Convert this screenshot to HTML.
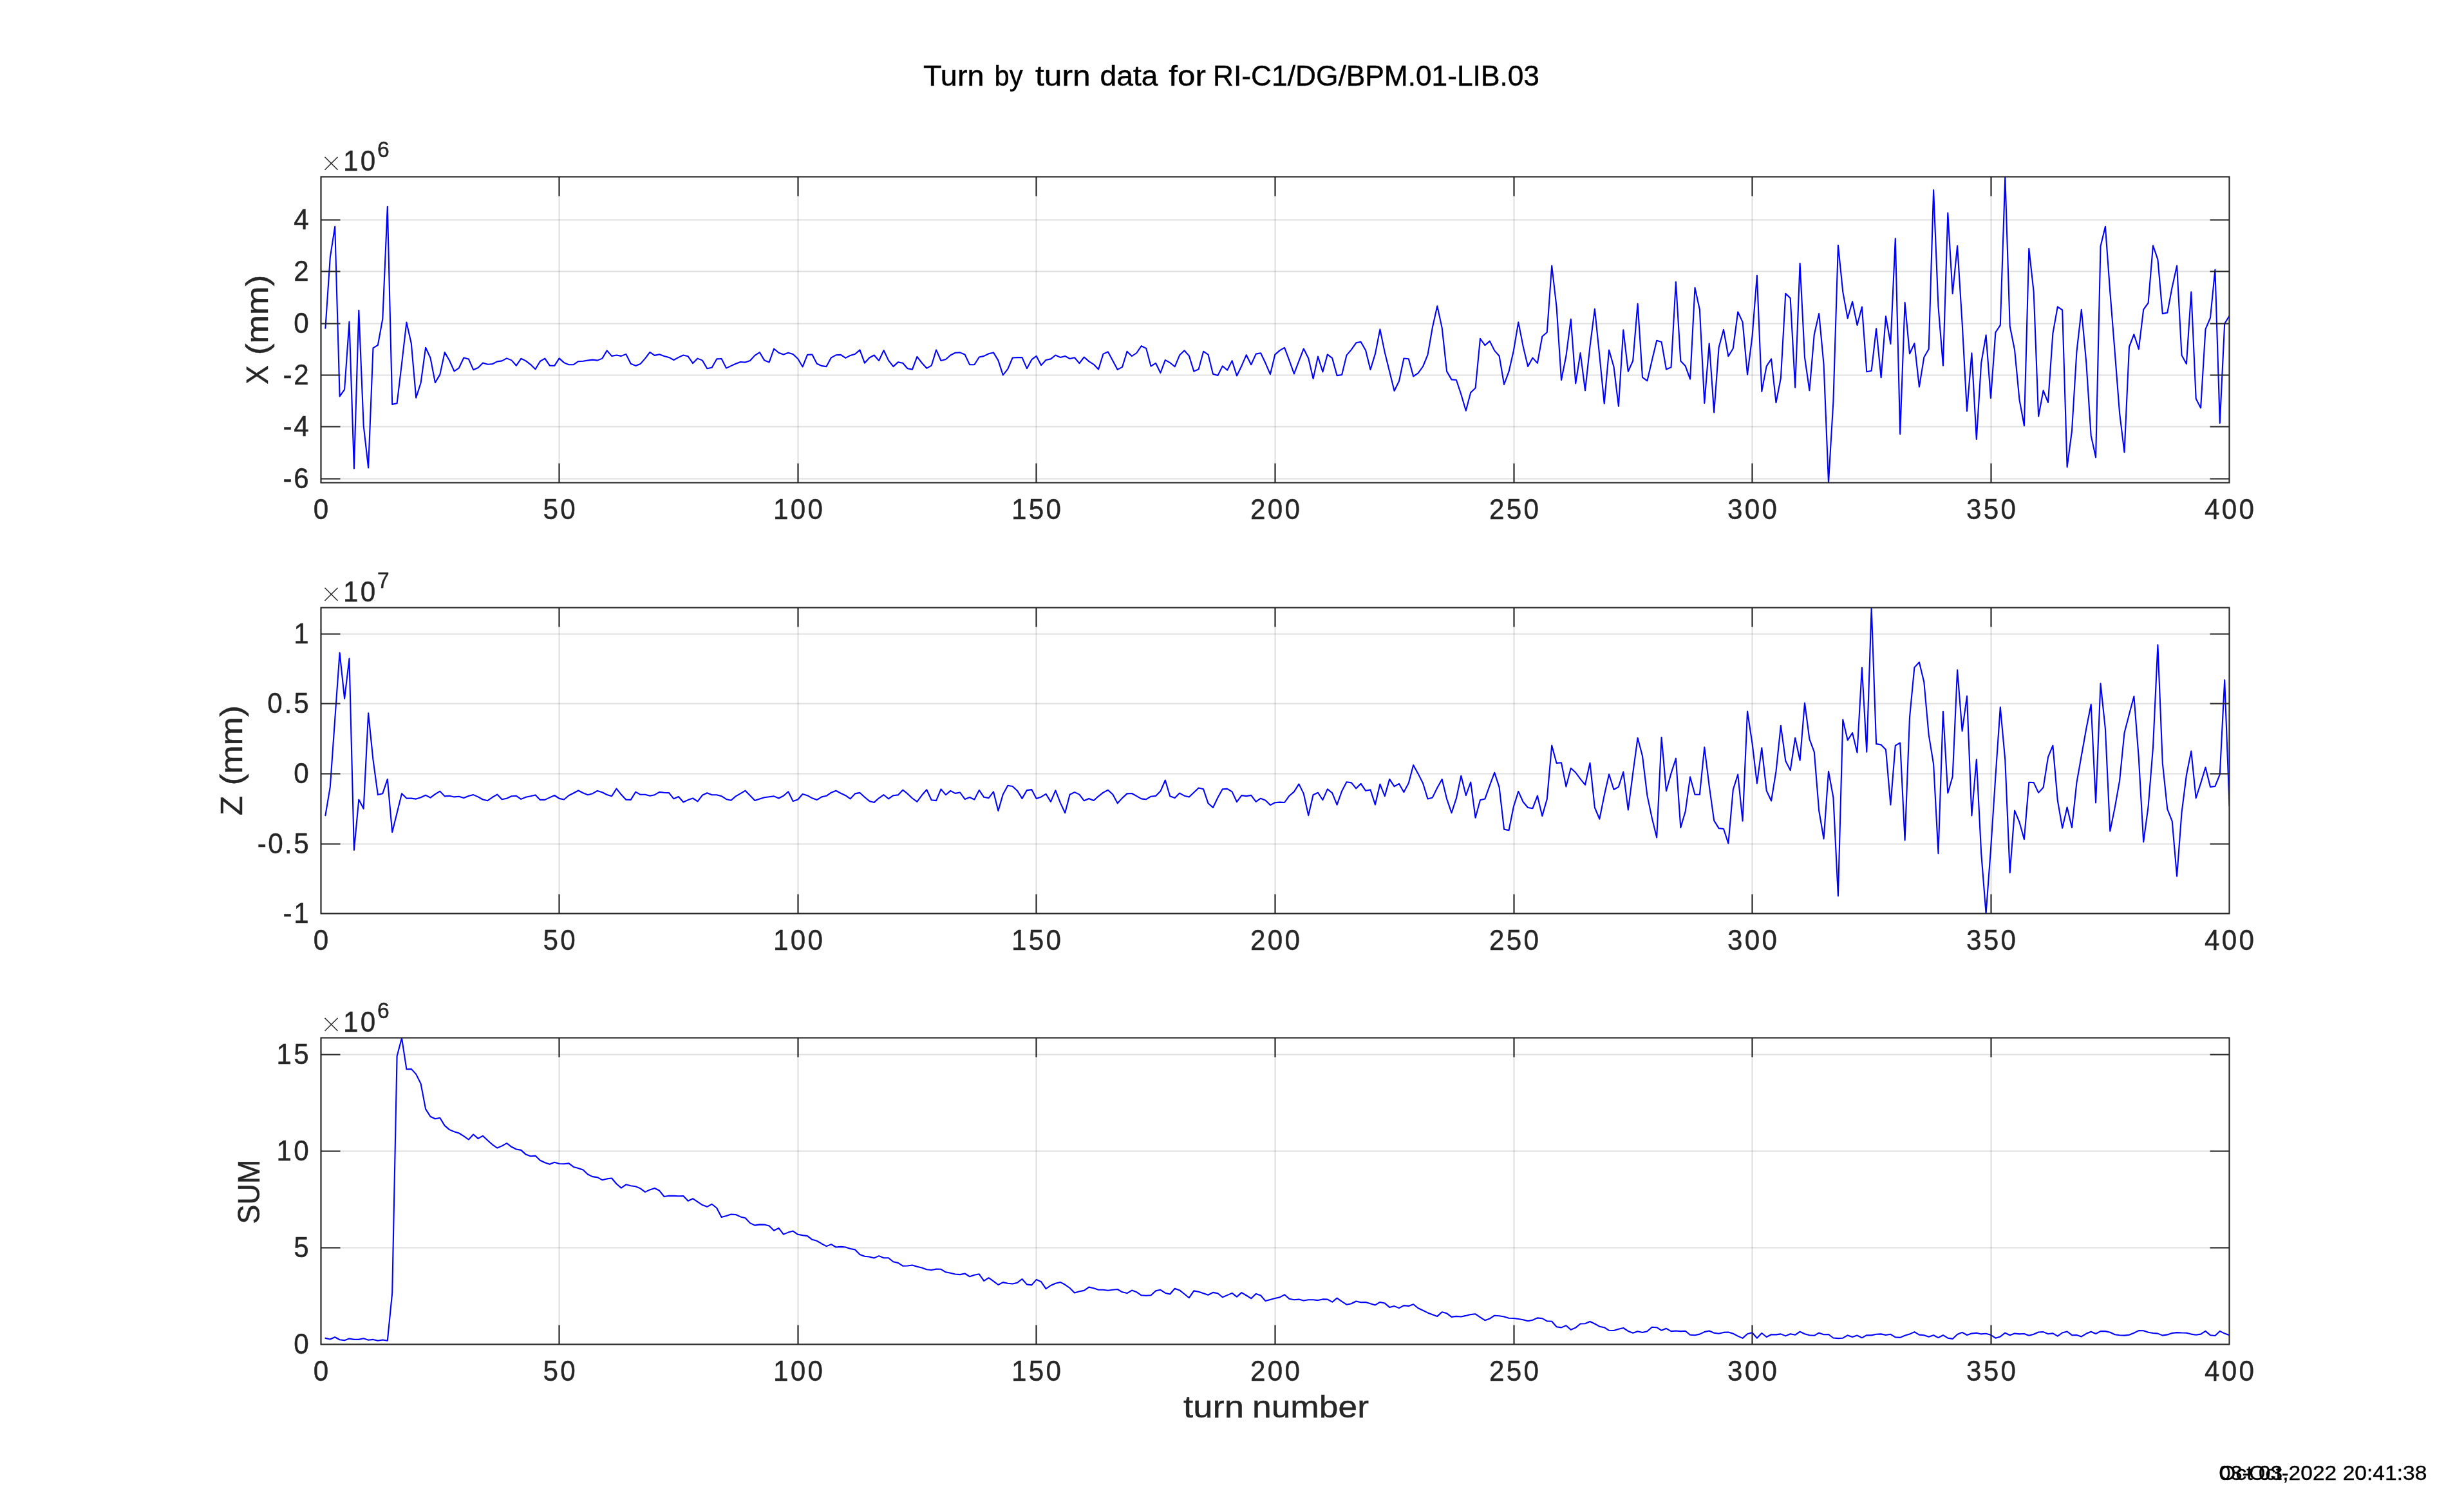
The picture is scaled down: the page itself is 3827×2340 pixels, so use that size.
<!DOCTYPE html>
<html><head><meta charset="utf-8"><title>Turn by turn data</title>
<style>html,body{margin:0;padding:0;background:#fff;}body{width:3827px;height:2340px;overflow:hidden;}svg{display:block;will-change:transform;}text{font-family:"Liberation Sans",sans-serif;}</style></head><body>
<svg width="3827" height="2340" viewBox="0 0 3827 2340">
<rect x="0" y="0" width="3827" height="2340" fill="#ffffff"/>
<text x="1434.00" y="132.5" font-size="43.7" fill="#000" stroke="#000" stroke-width="0.45" textLength="94.50" lengthAdjust="spacingAndGlyphs">Turn</text>
<text x="1544.50" y="132.5" font-size="43.7" fill="#000" stroke="#000" stroke-width="0.45" textLength="44.00" lengthAdjust="spacingAndGlyphs">by</text>
<text x="1608.00" y="132.5" font-size="43.7" fill="#000" stroke="#000" stroke-width="0.45" textLength="85.50" lengthAdjust="spacingAndGlyphs">turn</text>
<text x="1708.50" y="132.5" font-size="43.7" fill="#000" stroke="#000" stroke-width="0.45" textLength="90.00" lengthAdjust="spacingAndGlyphs">data</text>
<text x="1815.30" y="132.5" font-size="43.7" fill="#000" stroke="#000" stroke-width="0.45" textLength="57.50" lengthAdjust="spacingAndGlyphs">for</text>
<text x="1884.00" y="132.5" font-size="43.7" fill="#000" stroke="#000" stroke-width="0.45" textLength="507.00" lengthAdjust="spacingAndGlyphs">RI-C1/DG/BPM.01-LIB.03</text>
<clipPath id="c0"><rect x="498.00" y="274.00" width="2964.60" height="476.00"/></clipPath>
<path d="M498.50 274.50V749.50M868.50 274.50V749.50M1239.50 274.50V749.50M1609.50 274.50V749.50M1980.50 274.50V749.50M2351.50 274.50V749.50M2721.50 274.50V749.50M3092.50 274.50V749.50M3462.50 274.50V749.50" stroke="#262626" stroke-opacity="0.15" stroke-width="2.05" fill="none"/>
<path d="M498.50 341.50H3462.50M498.50 421.50H3462.50M498.50 502.50H3462.50M498.50 582.50H3462.50M498.50 662.50H3462.50M498.50 743.50H3462.50" stroke="#262626" stroke-opacity="0.15" stroke-width="2.05" fill="none"/>
<polyline clip-path="url(#c0)" points="505.4,509.8 512.8,399.7 520.2,351.8 527.6,615.4 535.1,604.8 542.5,499.5 549.9,727.4 557.3,481.8 564.7,661.1 572.1,726.4 579.5,540.4 586.9,535.9 594.3,495.3 601.8,320.9 609.2,627.9 616.6,626.3 624.0,564.5 631.4,500.5 638.8,533.3 646.2,617.6 653.6,594.5 661.1,539.7 668.5,555.8 675.9,594.1 683.3,581.6 690.7,547.1 698.1,559.7 705.5,576.4 712.9,571.3 720.3,555.5 727.8,557.4 735.2,574.2 742.6,571.0 750.0,563.6 757.4,565.8 764.8,565.2 772.2,561.4 779.6,560.4 787.0,556.4 794.5,559.4 801.9,567.7 809.3,556.8 816.7,560.4 824.1,566.1 831.5,573.2 838.9,561.0 846.3,556.6 853.8,567.7 861.2,567.9 868.6,556.4 876.0,563.1 883.4,566.3 890.8,566.1 898.2,561.2 905.6,560.8 913.0,559.6 920.5,558.6 927.9,559.6 935.3,556.6 942.7,544.4 950.1,552.9 957.5,551.5 964.9,552.9 972.3,549.9 979.7,564.7 987.2,567.9 994.6,565.1 1002.0,556.6 1009.4,546.8 1016.8,551.9 1024.2,550.3 1031.6,552.9 1039.0,554.9 1046.5,559.0 1053.9,554.9 1061.3,551.5 1068.7,553.3 1076.1,564.1 1083.5,556.6 1090.9,559.6 1098.3,572.2 1105.7,570.8 1113.2,557.4 1120.6,557.0 1128.0,571.6 1135.4,568.1 1142.8,564.7 1150.2,562.0 1157.6,562.6 1165.0,560.0 1172.4,551.9 1179.9,547.2 1187.3,559.6 1194.7,562.4 1202.1,541.5 1209.5,547.8 1216.9,550.5 1224.3,547.8 1231.7,549.9 1239.2,557.0 1246.6,569.5 1254.0,550.9 1261.4,550.5 1268.8,564.7 1276.2,568.1 1283.6,569.1 1291.0,555.3 1298.4,551.3 1305.9,550.9 1313.3,555.9 1320.7,551.9 1328.1,549.7 1335.5,543.4 1342.9,563.7 1350.3,555.5 1357.7,551.5 1365.1,560.0 1372.6,544.0 1380.0,559.6 1387.4,569.1 1394.8,562.4 1402.2,563.7 1409.6,572.2 1417.0,573.6 1424.4,553.9 1431.8,563.5 1439.3,571.8 1446.7,567.7 1454.1,543.4 1461.5,560.0 1468.9,558.0 1476.3,551.5 1483.7,547.8 1491.1,547.4 1498.6,550.5 1506.0,566.1 1513.4,566.3 1520.8,554.5 1528.2,552.9 1535.6,549.3 1543.0,547.4 1550.4,559.6 1557.8,582.3 1565.3,572.8 1572.7,555.5 1580.1,555.1 1587.5,555.1 1594.9,572.2 1602.3,558.4 1609.7,552.9 1617.1,567.1 1624.5,559.0 1632.0,557.4 1639.4,551.5 1646.8,554.9 1654.2,552.9 1661.6,557.0 1669.0,555.3 1676.4,564.1 1683.8,554.5 1691.3,561.1 1698.7,565.8 1706.1,573.5 1713.5,549.6 1720.9,546.3 1728.3,560.1 1735.7,573.9 1743.1,569.9 1750.5,545.7 1758.0,553.0 1765.4,548.0 1772.8,537.2 1780.2,540.9 1787.6,568.7 1795.0,563.8 1802.4,579.0 1809.8,559.1 1817.2,563.2 1824.7,569.3 1832.1,551.6 1839.5,544.3 1846.9,552.6 1854.3,576.6 1861.7,573.3 1869.1,545.7 1876.5,550.6 1884.0,580.8 1891.4,583.1 1898.8,568.4 1906.2,574.7 1913.6,560.1 1921.0,583.5 1928.4,568.2 1935.8,551.2 1943.2,566.2 1950.7,549.6 1958.1,548.2 1965.5,563.8 1972.9,581.2 1980.3,550.6 1987.7,544.1 1995.1,539.8 2002.5,559.7 2009.9,580.4 2017.4,560.7 2024.8,541.5 2032.2,556.3 2039.6,588.1 2047.0,553.6 2054.4,577.4 2061.8,550.4 2069.2,556.1 2076.6,583.1 2084.1,582.0 2091.5,551.6 2098.9,542.9 2106.3,532.3 2113.7,530.9 2121.1,544.1 2128.5,573.9 2135.9,549.6 2143.4,511.4 2150.8,547.2 2158.2,576.9 2165.6,607.0 2173.0,591.8 2180.4,556.5 2187.8,557.3 2195.2,584.4 2202.6,579.4 2210.1,569.0 2217.5,550.9 2224.9,508.2 2232.3,475.3 2239.7,509.1 2247.1,576.6 2254.5,589.4 2261.9,590.0 2269.3,612.2 2276.8,637.7 2284.2,609.5 2291.6,602.6 2299.0,525.9 2306.4,536.1 2313.8,529.6 2321.2,544.4 2328.6,552.8 2336.1,597.0 2343.5,576.9 2350.9,544.4 2358.3,500.4 2365.7,537.9 2373.1,569.1 2380.5,555.6 2387.9,563.9 2395.3,522.5 2402.8,516.0 2410.2,412.5 2417.6,476.6 2425.0,590.3 2432.4,552.8 2439.8,495.6 2447.2,595.5 2454.6,548.1 2462.0,606.3 2469.5,537.9 2476.9,479.8 2484.3,551.9 2491.7,626.6 2499.1,543.5 2506.5,569.5 2513.9,630.8 2521.3,512.3 2528.8,576.9 2536.2,560.2 2543.6,471.6 2551.0,585.9 2558.4,591.4 2565.8,559.6 2573.2,528.7 2580.6,531.0 2588.0,573.5 2595.5,570.2 2602.9,437.7 2610.3,560.6 2617.7,568.3 2625.1,588.6 2632.5,446.7 2639.9,480.8 2647.3,625.9 2654.7,533.2 2662.2,640.4 2669.6,539.7 2677.0,511.7 2684.4,553.2 2691.8,541.0 2699.2,484.3 2706.6,500.1 2714.0,581.5 2721.5,522.6 2728.9,427.7 2736.3,607.9 2743.7,568.6 2751.1,557.4 2758.5,625.3 2765.9,587.0 2773.3,455.7 2780.7,463.1 2788.2,601.8 2795.6,408.7 2803.0,554.8 2810.4,606.3 2817.8,519.4 2825.2,486.9 2832.6,566.1 2840.0,749.2 2847.4,624.0 2854.9,380.7 2862.3,453.4 2869.7,494.3 2877.1,468.2 2884.5,504.9 2891.9,476.6 2899.3,577.3 2906.7,575.7 2914.1,510.4 2921.6,586.3 2929.0,491.1 2936.4,533.9 2943.8,370.4 2951.2,673.9 2958.6,469.8 2966.0,549.3 2973.4,533.2 2980.9,600.8 2988.3,554.8 2995.7,541.9 3003.1,295.1 3010.5,476.0 3017.9,567.7 3025.3,330.5 3032.7,456.0 3040.1,381.7 3047.6,501.7 3055.0,638.5 3062.4,548.4 3069.8,681.9 3077.2,563.5 3084.6,520.4 3092.0,618.2 3099.4,516.2 3106.8,504.9 3114.3,274.2 3121.7,506.5 3129.1,543.5 3136.5,620.8 3143.9,661.0 3151.3,385.8 3158.7,453.4 3166.1,646.5 3173.6,606.3 3181.0,624.9 3188.4,517.8 3195.8,476.3 3203.2,481.4 3210.6,725.3 3218.0,669.0 3225.4,546.7 3232.8,480.8 3240.3,562.8 3247.7,676.4 3255.1,710.2 3262.5,382.6 3269.9,351.7 3277.3,453.4 3284.7,546.7 3292.1,641.7 3299.5,702.2 3307.0,538.5 3314.4,519.2 3321.8,542.1 3329.2,480.6 3336.6,470.4 3344.0,381.3 3351.4,402.8 3358.8,487.1 3366.3,485.5 3373.7,445.9 3381.1,412.5 3388.5,551.4 3395.9,564.9 3403.3,453.3 3410.7,618.9 3418.1,633.4 3425.5,511.2 3433.0,493.5 3440.4,418.9 3447.8,656.9 3455.2,502.5 3462.6,490.3" fill="none" stroke="#0000ff" stroke-width="2.1" stroke-linejoin="round" stroke-linecap="round"/>
<path d="M868.50 749.50v-30M868.50 274.50v30M1239.50 749.50v-30M1239.50 274.50v30M1609.50 749.50v-30M1609.50 274.50v30M1980.50 749.50v-30M1980.50 274.50v30M2351.50 749.50v-30M2351.50 274.50v30M2721.50 749.50v-30M2721.50 274.50v30M3092.50 749.50v-30M3092.50 274.50v30M498.50 341.50h30M3462.50 341.50h-30M498.50 421.50h30M3462.50 421.50h-30M498.50 502.50h30M3462.50 502.50h-30M498.50 582.50h30M3462.50 582.50h-30M498.50 662.50h30M3462.50 662.50h-30M498.50 743.50h30M3462.50 743.50h-30" stroke="#262626" stroke-width="2.10" fill="none"/>
<rect x="498.50" y="274.50" width="2964.00" height="475.00" fill="none" stroke="#262626" stroke-width="2.10"/>
<text transform="translate(500.20,806.10) scale(0.9650,1)" font-size="43.70" text-anchor="middle" fill="#262626" stroke="#262626" stroke-width="0.45" letter-spacing="3.40">0</text>
<text transform="translate(870.20,806.10) scale(0.9650,1)" font-size="43.70" text-anchor="middle" fill="#262626" stroke="#262626" stroke-width="0.45" letter-spacing="3.40">50</text>
<text transform="translate(1241.20,806.10) scale(0.9650,1)" font-size="43.70" text-anchor="middle" fill="#262626" stroke="#262626" stroke-width="0.45" letter-spacing="3.40">100</text>
<text transform="translate(1611.20,806.10) scale(0.9650,1)" font-size="43.70" text-anchor="middle" fill="#262626" stroke="#262626" stroke-width="0.45" letter-spacing="3.40">150</text>
<text transform="translate(1982.20,806.10) scale(0.9650,1)" font-size="43.70" text-anchor="middle" fill="#262626" stroke="#262626" stroke-width="0.45" letter-spacing="3.40">200</text>
<text transform="translate(2353.20,806.10) scale(0.9650,1)" font-size="43.70" text-anchor="middle" fill="#262626" stroke="#262626" stroke-width="0.45" letter-spacing="3.40">250</text>
<text transform="translate(2723.20,806.10) scale(0.9650,1)" font-size="43.70" text-anchor="middle" fill="#262626" stroke="#262626" stroke-width="0.45" letter-spacing="3.40">300</text>
<text transform="translate(3094.20,806.10) scale(0.9650,1)" font-size="43.70" text-anchor="middle" fill="#262626" stroke="#262626" stroke-width="0.45" letter-spacing="3.40">350</text>
<text transform="translate(3464.20,806.10) scale(0.9650,1)" font-size="43.70" text-anchor="middle" fill="#262626" stroke="#262626" stroke-width="0.45" letter-spacing="3.40">400</text>
<text transform="translate(483.00,356.00) scale(0.9650,1)" font-size="43.70" text-anchor="end" fill="#262626" stroke="#262626" stroke-width="0.45" letter-spacing="3.40">4</text>
<text transform="translate(483.00,436.00) scale(0.9650,1)" font-size="43.70" text-anchor="end" fill="#262626" stroke="#262626" stroke-width="0.45" letter-spacing="3.40">2</text>
<text transform="translate(483.00,517.00) scale(0.9650,1)" font-size="43.70" text-anchor="end" fill="#262626" stroke="#262626" stroke-width="0.45" letter-spacing="3.40">0</text>
<text transform="translate(482.50,597.00) scale(0.9650,1)" font-size="43.70" text-anchor="end" fill="#262626" stroke="#262626" stroke-width="0.45" letter-spacing="2.90">-2</text>
<text transform="translate(482.50,677.00) scale(0.9650,1)" font-size="43.70" text-anchor="end" fill="#262626" stroke="#262626" stroke-width="0.45" letter-spacing="2.90">-4</text>
<text transform="translate(482.50,758.00) scale(0.9650,1)" font-size="43.70" text-anchor="end" fill="#262626" stroke="#262626" stroke-width="0.45" letter-spacing="2.90">-6</text>
<path d="M504.5 243.70l20 20M524.5 243.70l-20 20" stroke="#262626" stroke-width="1.5" fill="none"/>
<text transform="translate(533.00,264.50) scale(0.9650,1)" font-size="43.70" text-anchor="start" fill="#262626" stroke="#262626" stroke-width="0.45" letter-spacing="3.40">10</text>
<text transform="translate(586.00,243.90) scale(0.9650,1)" font-size="34.80" text-anchor="start" fill="#262626" stroke="#262626" stroke-width="0.45">6</text>
<text transform="translate(416.00,596.80) rotate(-90) scale(0.9100,1)" font-size="48.50" text-anchor="start" fill="#262626" stroke="#262626" stroke-width="0.45">X</text>
<text transform="translate(416.00,426.80) rotate(-90) scale(1.1000,1)" font-size="48.50" text-anchor="end" fill="#262626" stroke="#262626" stroke-width="0.45">(mm)</text>
<clipPath id="c1"><rect x="498.00" y="943.00" width="2964.60" height="476.00"/></clipPath>
<path d="M498.50 943.50V1418.50M868.50 943.50V1418.50M1239.50 943.50V1418.50M1609.50 943.50V1418.50M1980.50 943.50V1418.50M2351.50 943.50V1418.50M2721.50 943.50V1418.50M3092.50 943.50V1418.50M3462.50 943.50V1418.50" stroke="#262626" stroke-opacity="0.15" stroke-width="2.05" fill="none"/>
<path d="M498.50 984.50H3462.50M498.50 1092.50H3462.50M498.50 1201.50H3462.50M498.50 1310.50H3462.50M498.50 1418.50H3462.50" stroke="#262626" stroke-opacity="0.15" stroke-width="2.05" fill="none"/>
<polyline clip-path="url(#c1)" points="505.4,1266.1 512.8,1221.9 520.2,1117.0 527.6,1013.5 535.1,1084.8 542.5,1022.5 549.9,1319.9 557.3,1241.5 564.7,1255.7 572.1,1107.4 579.5,1179.9 586.9,1234.1 594.3,1232.2 601.8,1209.9 609.2,1292.2 616.6,1262.2 624.0,1232.2 631.4,1239.6 638.8,1239.6 646.2,1240.6 653.6,1238.3 661.1,1234.8 668.5,1238.6 675.9,1233.2 683.3,1228.6 690.7,1236.4 698.1,1235.7 705.5,1237.4 712.9,1236.7 720.3,1239.0 727.8,1236.1 735.2,1234.1 742.6,1237.4 750.0,1241.5 757.4,1243.2 764.8,1238.0 772.2,1233.6 779.6,1241.3 787.0,1239.7 794.5,1236.2 801.9,1235.8 809.3,1240.9 816.7,1237.8 824.1,1236.2 831.5,1234.4 838.9,1241.9 846.3,1241.9 853.8,1238.4 861.2,1235.0 868.6,1239.9 876.0,1241.5 883.4,1235.2 890.8,1231.5 898.2,1227.5 905.6,1231.3 913.0,1234.2 920.5,1232.2 927.9,1227.9 935.3,1230.3 942.7,1234.0 950.1,1236.2 957.5,1224.6 964.9,1233.8 972.3,1241.7 979.7,1241.9 987.2,1229.7 994.6,1233.8 1002.0,1233.8 1009.4,1235.8 1016.8,1234.2 1024.2,1229.9 1031.6,1230.7 1039.0,1231.1 1046.5,1240.3 1053.9,1237.0 1061.3,1245.5 1068.7,1242.1 1076.1,1239.5 1083.5,1244.3 1090.9,1234.8 1098.3,1231.3 1105.7,1234.2 1113.2,1234.2 1120.6,1236.2 1128.0,1240.9 1135.4,1242.7 1142.8,1236.4 1150.2,1232.2 1157.6,1227.7 1165.0,1235.2 1172.4,1242.9 1179.9,1240.5 1187.3,1238.2 1194.7,1237.2 1202.1,1236.4 1209.5,1239.5 1216.9,1235.8 1224.3,1229.3 1231.7,1244.1 1239.2,1241.5 1246.6,1233.0 1254.0,1235.2 1261.4,1239.3 1268.8,1241.9 1276.2,1237.4 1283.6,1235.8 1291.0,1230.7 1298.4,1227.7 1305.9,1231.7 1313.3,1235.2 1320.7,1240.3 1328.1,1232.4 1335.5,1230.9 1342.9,1237.8 1350.3,1243.9 1357.7,1245.9 1365.1,1239.3 1372.6,1234.2 1380.0,1240.3 1387.4,1235.2 1394.8,1234.4 1402.2,1226.7 1409.6,1232.4 1417.0,1239.5 1424.4,1244.9 1431.8,1234.8 1439.3,1226.3 1446.7,1242.3 1454.1,1243.1 1461.5,1225.3 1468.9,1234.2 1476.3,1227.9 1483.7,1231.9 1491.1,1230.5 1498.6,1240.9 1506.0,1238.0 1513.4,1241.5 1520.8,1226.9 1528.2,1237.8 1535.6,1239.1 1543.0,1229.3 1550.4,1259.1 1557.8,1233.4 1565.3,1219.8 1572.7,1221.0 1580.1,1227.9 1587.5,1239.9 1594.9,1227.1 1602.3,1226.1 1609.7,1240.1 1617.1,1237.4 1624.5,1232.8 1632.0,1244.9 1639.4,1227.3 1646.8,1246.4 1654.2,1262.2 1661.6,1233.8 1669.0,1230.1 1676.4,1233.6 1683.8,1243.3 1691.3,1240.0 1698.7,1243.0 1706.1,1236.3 1713.5,1230.6 1720.9,1226.8 1728.3,1233.5 1735.7,1247.3 1743.1,1239.1 1750.5,1232.4 1758.0,1232.0 1765.4,1236.1 1772.8,1240.4 1780.2,1241.2 1787.6,1236.7 1795.0,1235.9 1802.4,1228.6 1809.8,1211.5 1817.2,1236.3 1824.7,1239.1 1832.1,1231.6 1839.5,1235.7 1846.9,1237.5 1854.3,1230.4 1861.7,1223.5 1869.1,1225.3 1876.5,1247.3 1884.0,1254.0 1891.4,1238.5 1898.8,1225.3 1906.2,1224.9 1913.6,1229.4 1921.0,1245.2 1928.4,1235.1 1935.8,1236.1 1943.2,1234.9 1950.7,1244.8 1958.1,1239.7 1965.5,1242.8 1972.9,1250.1 1980.3,1246.2 1987.7,1245.6 1995.1,1246.0 2002.5,1235.7 2009.9,1229.4 2017.4,1217.4 2024.8,1232.4 2032.2,1266.1 2039.6,1234.3 2047.0,1230.8 2054.4,1242.2 2061.8,1225.3 2069.2,1231.4 2076.6,1249.7 2084.1,1228.4 2091.5,1214.2 2098.9,1215.4 2106.3,1224.3 2113.7,1216.8 2121.1,1227.8 2128.5,1226.4 2135.9,1249.5 2143.4,1217.6 2150.8,1236.1 2158.2,1209.9 2165.6,1221.1 2173.0,1216.9 2180.4,1230.0 2187.8,1216.0 2195.2,1188.0 2202.6,1201.4 2210.1,1216.3 2217.5,1240.4 2224.9,1238.4 2232.3,1223.3 2239.7,1209.9 2247.1,1240.6 2254.5,1262.2 2261.9,1239.7 2269.3,1204.6 2276.8,1235.1 2284.2,1214.5 2291.6,1269.8 2299.0,1242.3 2306.4,1240.4 2313.8,1219.6 2321.2,1199.7 2328.6,1222.4 2336.1,1287.6 2343.5,1289.2 2350.9,1252.5 2358.3,1228.9 2365.7,1245.2 2373.1,1254.0 2380.5,1255.2 2387.9,1235.7 2395.3,1267.1 2402.8,1240.6 2410.2,1157.5 2417.6,1184.9 2425.0,1184.2 2432.4,1221.4 2439.8,1192.8 2447.2,1199.5 2454.6,1209.6 2462.0,1218.7 2469.5,1184.6 2476.9,1254.0 2484.3,1271.7 2491.7,1235.1 2499.1,1202.3 2506.5,1226.0 2513.9,1221.8 2521.3,1198.6 2528.8,1257.6 2536.2,1200.4 2543.6,1145.7 2551.0,1174.0 2558.4,1235.1 2565.8,1270.3 2573.2,1300.6 2580.6,1144.8 2588.0,1228.3 2595.5,1200.9 2602.9,1177.7 2610.3,1285.1 2617.7,1259.9 2625.1,1206.4 2632.5,1233.8 2639.9,1233.8 2647.3,1160.3 2654.7,1220.3 2662.2,1274.1 2669.6,1286.1 2677.0,1287.0 2684.4,1309.6 2691.8,1226.1 2699.2,1202.5 2706.6,1274.8 2714.0,1104.5 2721.5,1154.1 2728.9,1216.4 2736.3,1161.2 2743.7,1227.7 2751.1,1243.5 2758.5,1197.7 2765.9,1126.7 2773.3,1181.5 2780.7,1196.1 2788.2,1145.7 2795.6,1180.6 2803.0,1091.5 2810.4,1147.7 2817.8,1167.7 2825.2,1259.0 2832.6,1302.5 2840.0,1197.7 2847.4,1238.0 2854.9,1391.2 2862.3,1117.4 2869.7,1149.3 2877.1,1138.0 2884.5,1168.6 2891.9,1036.7 2899.3,1167.7 2906.7,943.5 2914.1,1155.1 2921.6,1156.4 2929.0,1164.1 2936.4,1249.6 2943.8,1157.7 2951.2,1153.5 2958.6,1304.8 2966.0,1113.8 2973.4,1036.4 2980.9,1028.3 2988.3,1059.0 2995.7,1141.2 3003.1,1186.4 3010.5,1325.1 3017.9,1104.8 3025.3,1231.5 3032.7,1205.7 3040.1,1040.3 3047.6,1135.1 3055.0,1080.9 3062.4,1266.4 3069.8,1179.3 3077.2,1325.1 3084.6,1418.3 3092.0,1318.6 3099.4,1205.7 3106.8,1098.0 3114.3,1179.9 3121.7,1355.1 3129.1,1258.6 3136.5,1276.7 3143.9,1303.2 3151.3,1214.8 3158.7,1215.1 3166.1,1230.9 3173.6,1222.8 3181.0,1175.7 3188.4,1157.7 3195.8,1242.8 3203.2,1285.7 3210.6,1253.5 3218.0,1285.1 3225.4,1215.4 3232.8,1173.5 3240.3,1131.5 3247.7,1093.8 3255.1,1246.4 3262.5,1061.2 3269.9,1131.5 3277.3,1290.6 3284.7,1254.1 3292.1,1212.2 3299.5,1138.0 3307.0,1109.0 3314.4,1081.2 3321.8,1176.7 3329.2,1307.4 3336.6,1252.5 3344.0,1160.6 3351.4,1001.2 3358.8,1184.8 3366.3,1256.4 3373.7,1275.1 3381.1,1360.6 3388.5,1262.2 3395.9,1203.5 3403.3,1166.4 3410.7,1239.3 3418.1,1216.1 3425.5,1191.5 3433.0,1221.9 3440.4,1220.9 3447.8,1202.5 3455.2,1055.7 3462.6,1250.9" fill="none" stroke="#0000ff" stroke-width="2.1" stroke-linejoin="round" stroke-linecap="round"/>
<path d="M868.50 1418.50v-30M868.50 943.50v30M1239.50 1418.50v-30M1239.50 943.50v30M1609.50 1418.50v-30M1609.50 943.50v30M1980.50 1418.50v-30M1980.50 943.50v30M2351.50 1418.50v-30M2351.50 943.50v30M2721.50 1418.50v-30M2721.50 943.50v30M3092.50 1418.50v-30M3092.50 943.50v30M498.50 984.50h30M3462.50 984.50h-30M498.50 1092.50h30M3462.50 1092.50h-30M498.50 1201.50h30M3462.50 1201.50h-30M498.50 1310.50h30M3462.50 1310.50h-30" stroke="#262626" stroke-width="2.10" fill="none"/>
<rect x="498.50" y="943.50" width="2964.00" height="475.00" fill="none" stroke="#262626" stroke-width="2.10"/>
<text transform="translate(500.20,1475.10) scale(0.9650,1)" font-size="43.70" text-anchor="middle" fill="#262626" stroke="#262626" stroke-width="0.45" letter-spacing="3.40">0</text>
<text transform="translate(870.20,1475.10) scale(0.9650,1)" font-size="43.70" text-anchor="middle" fill="#262626" stroke="#262626" stroke-width="0.45" letter-spacing="3.40">50</text>
<text transform="translate(1241.20,1475.10) scale(0.9650,1)" font-size="43.70" text-anchor="middle" fill="#262626" stroke="#262626" stroke-width="0.45" letter-spacing="3.40">100</text>
<text transform="translate(1611.20,1475.10) scale(0.9650,1)" font-size="43.70" text-anchor="middle" fill="#262626" stroke="#262626" stroke-width="0.45" letter-spacing="3.40">150</text>
<text transform="translate(1982.20,1475.10) scale(0.9650,1)" font-size="43.70" text-anchor="middle" fill="#262626" stroke="#262626" stroke-width="0.45" letter-spacing="3.40">200</text>
<text transform="translate(2353.20,1475.10) scale(0.9650,1)" font-size="43.70" text-anchor="middle" fill="#262626" stroke="#262626" stroke-width="0.45" letter-spacing="3.40">250</text>
<text transform="translate(2723.20,1475.10) scale(0.9650,1)" font-size="43.70" text-anchor="middle" fill="#262626" stroke="#262626" stroke-width="0.45" letter-spacing="3.40">300</text>
<text transform="translate(3094.20,1475.10) scale(0.9650,1)" font-size="43.70" text-anchor="middle" fill="#262626" stroke="#262626" stroke-width="0.45" letter-spacing="3.40">350</text>
<text transform="translate(3464.20,1475.10) scale(0.9650,1)" font-size="43.70" text-anchor="middle" fill="#262626" stroke="#262626" stroke-width="0.45" letter-spacing="3.40">400</text>
<text transform="translate(483.00,999.00) scale(0.9650,1)" font-size="43.70" text-anchor="end" fill="#262626" stroke="#262626" stroke-width="0.45" letter-spacing="3.40">1</text>
<text transform="translate(482.60,1107.00) scale(0.9650,1)" font-size="43.70" text-anchor="end" fill="#262626" stroke="#262626" stroke-width="0.45" letter-spacing="3.00">0.5</text>
<text transform="translate(483.00,1216.00) scale(0.9650,1)" font-size="43.70" text-anchor="end" fill="#262626" stroke="#262626" stroke-width="0.45" letter-spacing="3.40">0</text>
<text transform="translate(482.10,1325.00) scale(0.9650,1)" font-size="43.70" text-anchor="end" fill="#262626" stroke="#262626" stroke-width="0.45" letter-spacing="2.50">-0.5</text>
<text transform="translate(482.50,1433.00) scale(0.9650,1)" font-size="43.70" text-anchor="end" fill="#262626" stroke="#262626" stroke-width="0.45" letter-spacing="2.90">-1</text>
<path d="M504.5 912.70l20 20M524.5 912.70l-20 20" stroke="#262626" stroke-width="1.5" fill="none"/>
<text transform="translate(533.00,933.50) scale(0.9650,1)" font-size="43.70" text-anchor="start" fill="#262626" stroke="#262626" stroke-width="0.45" letter-spacing="3.40">10</text>
<text transform="translate(586.00,912.90) scale(0.9650,1)" font-size="34.80" text-anchor="start" fill="#262626" stroke="#262626" stroke-width="0.45">7</text>
<text transform="translate(376.00,1266.30) rotate(-90) scale(1.0300,1)" font-size="48.50" text-anchor="start" fill="#262626" stroke="#262626" stroke-width="0.45">Z</text>
<text transform="translate(376.00,1095.20) rotate(-90) scale(1.1000,1)" font-size="48.50" text-anchor="end" fill="#262626" stroke="#262626" stroke-width="0.45">(mm)</text>
<clipPath id="c2"><rect x="498.00" y="1611.00" width="2964.60" height="477.00"/></clipPath>
<path d="M498.50 1611.50V2087.50M868.50 1611.50V2087.50M1239.50 1611.50V2087.50M1609.50 1611.50V2087.50M1980.50 1611.50V2087.50M2351.50 1611.50V2087.50M2721.50 1611.50V2087.50M3092.50 1611.50V2087.50M3462.50 1611.50V2087.50" stroke="#262626" stroke-opacity="0.15" stroke-width="2.05" fill="none"/>
<path d="M498.50 1637.50H3462.50M498.50 1787.50H3462.50M498.50 1937.50H3462.50M498.50 2087.50H3462.50" stroke="#262626" stroke-opacity="0.15" stroke-width="2.05" fill="none"/>
<polyline clip-path="url(#c2)" points="505.4,2077.9 512.8,2079.5 520.2,2076.3 527.6,2080.2 535.1,2081.2 542.5,2078.6 549.9,2079.9 557.3,2079.9 564.7,2078.3 572.1,2080.8 579.5,2079.9 586.9,2081.8 594.3,2080.5 601.8,2081.8 609.2,2007.6 616.6,1639.9 624.0,1611.8 631.4,1660.2 638.8,1659.9 646.2,1667.9 653.6,1682.8 661.1,1722.1 668.5,1733.7 675.9,1737.3 683.3,1735.7 690.7,1747.9 698.1,1754.1 705.5,1757.3 712.9,1759.5 720.3,1764.1 727.8,1769.5 735.2,1761.5 742.6,1767.9 750.0,1763.7 757.4,1770.8 764.8,1777.3 772.2,1782.5 779.6,1779.4 787.0,1775.2 794.5,1780.8 801.9,1784.5 809.3,1785.9 816.7,1792.6 824.1,1795.3 831.5,1794.6 838.9,1801.7 846.3,1805.2 853.8,1807.8 861.2,1804.8 868.6,1807.0 876.0,1807.2 883.4,1806.4 890.8,1811.9 898.2,1813.9 905.6,1816.6 913.0,1823.5 920.5,1827.1 927.9,1828.1 935.3,1832.2 942.7,1830.4 950.1,1829.5 957.5,1838.3 964.9,1844.6 972.3,1839.3 979.7,1841.3 987.2,1842.3 994.6,1845.4 1002.0,1850.9 1009.4,1847.4 1016.8,1845.0 1024.2,1848.8 1031.6,1858.0 1039.0,1856.7 1046.5,1856.9 1053.9,1857.3 1061.3,1857.1 1068.7,1864.7 1076.1,1861.2 1083.5,1866.1 1090.9,1871.1 1098.3,1873.8 1105.7,1869.7 1113.2,1875.8 1120.6,1890.0 1128.0,1888.0 1135.4,1885.6 1142.8,1886.0 1150.2,1889.4 1157.6,1891.2 1165.0,1899.1 1172.4,1902.6 1179.9,1901.4 1187.3,1901.6 1194.7,1903.4 1202.1,1910.7 1209.5,1906.9 1216.9,1916.6 1224.3,1913.6 1231.7,1911.6 1239.2,1916.8 1246.6,1918.1 1254.0,1919.1 1261.4,1924.8 1268.8,1926.8 1276.2,1931.2 1283.6,1935.1 1291.0,1932.1 1298.4,1936.5 1305.9,1935.9 1313.3,1936.5 1320.7,1939.0 1328.1,1940.4 1335.5,1947.9 1342.9,1950.7 1350.3,1951.5 1357.7,1953.4 1365.1,1950.1 1372.6,1953.2 1380.0,1953.2 1387.4,1959.3 1394.8,1960.9 1402.2,1965.7 1409.6,1965.5 1417.0,1964.5 1424.4,1966.8 1431.8,1968.6 1439.3,1971.2 1446.7,1972.0 1454.1,1970.6 1461.5,1970.8 1468.9,1975.3 1476.3,1976.7 1483.7,1978.5 1491.1,1979.1 1498.6,1977.5 1506.0,1982.2 1513.4,1979.7 1520.8,1978.3 1528.2,1988.9 1535.6,1984.2 1543.0,1989.3 1550.4,1995.0 1557.8,1991.1 1565.3,1992.7 1572.7,1993.5 1580.1,1991.7 1587.5,1986.0 1594.9,1994.4 1602.3,1995.4 1609.7,1986.9 1617.1,1990.3 1624.5,2001.1 1632.0,1996.0 1639.4,1992.7 1646.8,1990.9 1654.2,1994.8 1661.6,2000.0 1669.0,2007.5 1676.4,2005.3 1683.8,2003.9 1691.3,1998.6 1698.7,2000.2 1706.1,2002.8 1713.5,2002.8 1720.9,2003.8 1728.3,2002.8 1735.7,2002.0 1743.1,2006.3 1750.5,2008.1 1758.0,2003.6 1765.4,2006.3 1772.8,2011.3 1780.2,2011.7 1787.6,2011.3 1795.0,2004.4 1802.4,2002.8 1809.8,2007.7 1817.2,2009.5 1824.7,2000.8 1832.1,2003.4 1839.5,2009.3 1846.9,2015.2 1854.3,2004.4 1861.7,2005.7 1869.1,2008.3 1876.5,2010.7 1884.0,2006.9 1891.4,2008.3 1898.8,2014.2 1906.2,2011.1 1913.6,2007.9 1921.0,2013.6 1928.4,2007.1 1935.8,2011.5 1943.2,2016.2 1950.7,2008.9 1958.1,2011.5 1965.5,2020.1 1972.9,2018.0 1980.3,2016.0 1987.7,2014.4 1995.1,2010.3 2002.5,2016.8 2009.9,2018.2 2017.4,2017.6 2024.8,2019.5 2032.2,2018.2 2039.6,2018.2 2047.0,2019.1 2054.4,2017.4 2061.8,2017.6 2069.2,2021.7 2076.6,2015.6 2084.1,2020.9 2091.5,2025.7 2098.9,2024.3 2106.3,2020.5 2113.7,2022.3 2121.1,2022.1 2128.5,2024.3 2135.9,2026.4 2143.4,2021.9 2150.8,2023.6 2158.2,2029.9 2165.6,2028.1 2173.0,2031.1 2180.4,2027.1 2187.8,2027.9 2195.2,2025.3 2202.6,2031.3 2210.1,2034.8 2217.5,2038.4 2224.9,2041.3 2232.3,2043.9 2239.7,2037.2 2247.1,2039.3 2254.5,2044.9 2261.9,2043.9 2269.3,2044.5 2276.8,2042.9 2284.2,2041.1 2291.6,2040.3 2299.0,2045.3 2306.4,2050.2 2313.8,2047.6 2321.2,2042.7 2328.6,2043.3 2336.1,2044.5 2343.5,2046.8 2350.9,2047.0 2358.3,2048.0 2365.7,2049.2 2373.1,2051.2 2380.5,2049.8 2387.9,2046.4 2395.3,2047.2 2402.8,2051.4 2410.2,2051.8 2417.6,2060.2 2425.0,2061.4 2432.4,2058.3 2439.8,2064.8 2447.2,2061.6 2454.6,2055.5 2462.0,2055.3 2469.5,2052.0 2476.9,2055.5 2484.3,2059.7 2491.7,2061.2 2499.1,2065.8 2506.5,2066.0 2513.9,2063.8 2521.3,2062.0 2528.8,2066.9 2536.2,2069.7 2543.6,2067.3 2551.0,2069.1 2558.4,2067.3 2565.8,2060.8 2573.2,2061.2 2580.6,2065.8 2588.0,2062.8 2595.5,2067.1 2602.9,2066.5 2610.3,2067.1 2617.7,2066.7 2625.1,2072.8 2632.5,2073.2 2639.9,2071.6 2647.3,2068.1 2654.7,2066.5 2662.2,2069.7 2669.6,2070.8 2677.0,2068.9 2684.4,2068.5 2691.8,2070.8 2699.2,2074.6 2706.6,2077.9 2714.0,2071.2 2721.5,2069.3 2728.9,2077.7 2736.3,2070.0 2743.7,2076.0 2751.1,2072.2 2758.5,2072.4 2765.9,2071.4 2773.3,2074.4 2780.7,2071.2 2788.2,2072.8 2795.6,2067.7 2803.0,2071.2 2810.4,2073.2 2817.8,2073.8 2825.2,2069.7 2832.6,2072.2 2840.0,2072.0 2847.4,2077.5 2854.9,2078.1 2862.3,2077.7 2869.7,2073.4 2877.1,2076.0 2884.5,2073.6 2891.9,2077.3 2899.3,2073.2 2906.7,2073.4 2914.1,2071.8 2921.6,2071.4 2929.0,2073.0 2936.4,2071.8 2943.8,2076.4 2951.2,2076.9 2958.6,2073.8 2966.0,2071.6 2973.4,2068.1 2980.9,2072.6 2988.3,2073.2 2995.7,2075.8 3003.1,2073.2 3010.5,2077.1 3017.9,2073.2 3025.3,2077.7 3032.7,2078.9 3040.1,2072.0 3047.6,2068.9 3055.0,2073.0 3062.4,2070.6 3069.8,2069.7 3077.2,2071.4 3084.6,2070.8 3092.0,2072.8 3099.4,2077.7 3106.8,2075.4 3114.3,2069.7 3121.7,2073.2 3129.1,2070.6 3136.5,2071.4 3143.9,2071.0 3151.3,2073.8 3158.7,2071.8 3166.1,2068.5 3173.6,2068.1 3181.0,2071.2 3188.4,2070.4 3195.8,2074.6 3203.2,2069.5 3210.6,2067.5 3218.0,2073.2 3225.4,2073.0 3232.8,2075.4 3240.3,2070.8 3247.7,2067.7 3255.1,2071.0 3262.5,2067.1 3269.9,2067.1 3277.3,2068.7 3284.7,2072.2 3292.1,2073.2 3299.5,2073.6 3307.0,2072.8 3314.4,2069.7 3321.8,2066.1 3329.2,2066.3 3336.6,2068.7 3344.0,2070.0 3351.4,2070.6 3358.8,2073.6 3366.3,2072.4 3373.7,2070.0 3381.1,2069.1 3388.5,2069.5 3395.9,2069.7 3403.3,2071.6 3410.7,2072.8 3418.1,2071.6 3425.5,2066.9 3433.0,2073.2 3440.4,2074.0 3447.8,2066.9 3455.2,2070.6 3462.6,2073.2" fill="none" stroke="#0000ff" stroke-width="2.1" stroke-linejoin="round" stroke-linecap="round"/>
<path d="M868.50 2087.50v-30M868.50 1611.50v30M1239.50 2087.50v-30M1239.50 1611.50v30M1609.50 2087.50v-30M1609.50 1611.50v30M1980.50 2087.50v-30M1980.50 1611.50v30M2351.50 2087.50v-30M2351.50 1611.50v30M2721.50 2087.50v-30M2721.50 1611.50v30M3092.50 2087.50v-30M3092.50 1611.50v30M498.50 1637.50h30M3462.50 1637.50h-30M498.50 1787.50h30M3462.50 1787.50h-30M498.50 1937.50h30M3462.50 1937.50h-30" stroke="#262626" stroke-width="2.10" fill="none"/>
<rect x="498.50" y="1611.50" width="2964.00" height="476.00" fill="none" stroke="#262626" stroke-width="2.10"/>
<text transform="translate(500.20,2144.10) scale(0.9650,1)" font-size="43.70" text-anchor="middle" fill="#262626" stroke="#262626" stroke-width="0.45" letter-spacing="3.40">0</text>
<text transform="translate(870.20,2144.10) scale(0.9650,1)" font-size="43.70" text-anchor="middle" fill="#262626" stroke="#262626" stroke-width="0.45" letter-spacing="3.40">50</text>
<text transform="translate(1241.20,2144.10) scale(0.9650,1)" font-size="43.70" text-anchor="middle" fill="#262626" stroke="#262626" stroke-width="0.45" letter-spacing="3.40">100</text>
<text transform="translate(1611.20,2144.10) scale(0.9650,1)" font-size="43.70" text-anchor="middle" fill="#262626" stroke="#262626" stroke-width="0.45" letter-spacing="3.40">150</text>
<text transform="translate(1982.20,2144.10) scale(0.9650,1)" font-size="43.70" text-anchor="middle" fill="#262626" stroke="#262626" stroke-width="0.45" letter-spacing="3.40">200</text>
<text transform="translate(2353.20,2144.10) scale(0.9650,1)" font-size="43.70" text-anchor="middle" fill="#262626" stroke="#262626" stroke-width="0.45" letter-spacing="3.40">250</text>
<text transform="translate(2723.20,2144.10) scale(0.9650,1)" font-size="43.70" text-anchor="middle" fill="#262626" stroke="#262626" stroke-width="0.45" letter-spacing="3.40">300</text>
<text transform="translate(3094.20,2144.10) scale(0.9650,1)" font-size="43.70" text-anchor="middle" fill="#262626" stroke="#262626" stroke-width="0.45" letter-spacing="3.40">350</text>
<text transform="translate(3464.20,2144.10) scale(0.9650,1)" font-size="43.70" text-anchor="middle" fill="#262626" stroke="#262626" stroke-width="0.45" letter-spacing="3.40">400</text>
<text transform="translate(483.00,1652.00) scale(0.9650,1)" font-size="43.70" text-anchor="end" fill="#262626" stroke="#262626" stroke-width="0.45" letter-spacing="3.40">15</text>
<text transform="translate(483.00,1802.00) scale(0.9650,1)" font-size="43.70" text-anchor="end" fill="#262626" stroke="#262626" stroke-width="0.45" letter-spacing="3.40">10</text>
<text transform="translate(483.00,1952.00) scale(0.9650,1)" font-size="43.70" text-anchor="end" fill="#262626" stroke="#262626" stroke-width="0.45" letter-spacing="3.40">5</text>
<text transform="translate(483.00,2102.00) scale(0.9650,1)" font-size="43.70" text-anchor="end" fill="#262626" stroke="#262626" stroke-width="0.45" letter-spacing="3.40">0</text>
<path d="M504.5 1580.70l20 20M524.5 1580.70l-20 20" stroke="#262626" stroke-width="1.5" fill="none"/>
<text transform="translate(533.00,1601.50) scale(0.9650,1)" font-size="43.70" text-anchor="start" fill="#262626" stroke="#262626" stroke-width="0.45" letter-spacing="3.40">10</text>
<text transform="translate(586.00,1580.90) scale(0.9650,1)" font-size="34.80" text-anchor="start" fill="#262626" stroke="#262626" stroke-width="0.45">6</text>
<text transform="translate(403.00,1850.50) rotate(-90) scale(0.9260,1)" font-size="48.50" text-anchor="middle" fill="#262626" stroke="#262626" stroke-width="0.45">SUM</text>
<text x="1838.00" y="2201" font-size="48.50" fill="#262626" stroke="#262626" stroke-width="0.45" textLength="94.00" lengthAdjust="spacingAndGlyphs">turn</text>
<text x="1945.00" y="2201" font-size="48.50" fill="#262626" stroke="#262626" stroke-width="0.45" textLength="181.00" lengthAdjust="spacingAndGlyphs">number</text>
<text x="3446.5" y="2298" font-size="30.50" fill="#000" stroke="#000" stroke-width="0.35" textLength="108" lengthAdjust="spacingAndGlyphs">03-Oct-</text>
<text x="3446.5" y="2298" font-size="30.50" fill="#000" stroke="#000" stroke-width="0.35" textLength="108" lengthAdjust="spacingAndGlyphs">Oct 03,</text>
<text x="3554.5" y="2298" font-size="30.50" fill="#000" stroke="#000" stroke-width="0.35" textLength="215" lengthAdjust="spacingAndGlyphs">2022 20:41:38</text>
</svg></body></html>
